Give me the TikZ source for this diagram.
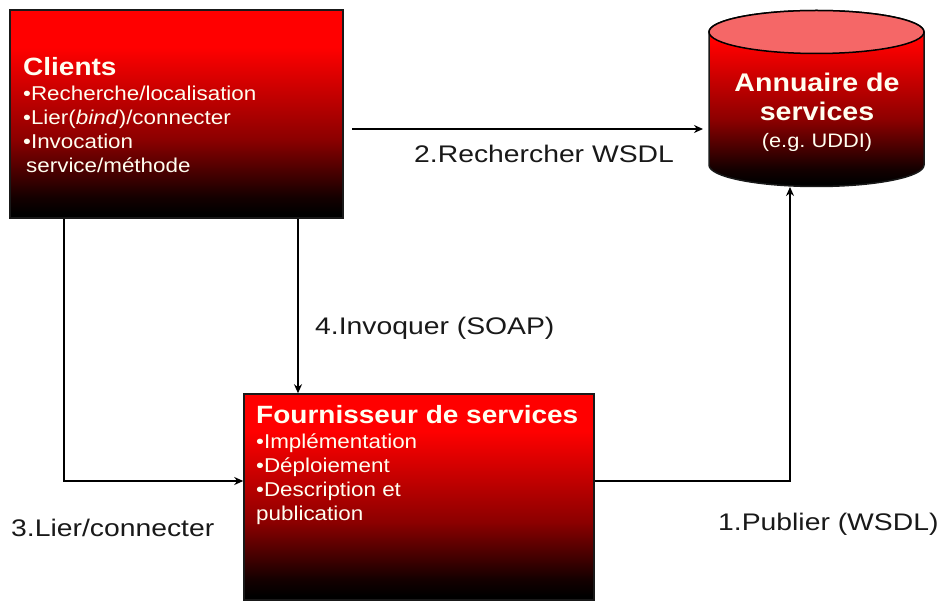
\documentclass[tikz,border=0pt]{standalone}
\usepackage{fontspec}
\setmainfont{Liberation Sans}
\newfontfamily\wideface[FakeStretch=1.12]{Liberation Sans}
\newfontfamily\labelface[FakeStretch=1.18]{Liberation Sans}
\usetikzlibrary{arrows.meta,shapes.geometric}
\pgfdeclareverticalshading{redblack}{100bp}{
  color(0bp)=(black);
  color(26bp)=(black);
  color(30bp)=(red!8!black);
  color(44bp)=(red!55!black);
  color(66bp)=(red);
  color(100bp)=(red)}
\tikzset{
  x=1pt,y=1pt,
  boxnode/.style={draw=black!90,line width=1.5pt,shading=redblack,inner sep=0pt,minimum width=#1},
  bodytext/.style={text=white!94!yellow,align=left,inner sep=0pt,anchor=north west,
    font=\wideface\fontsize{20}{24}\selectfont},
  edgelabel/.style={text=black!90,inner sep=0pt,font=\labelface\fontsize{24}{27}\selectfont},
  conn/.style={line width=1.5pt,draw=black,-{Stealth[length=9pt,width=8pt]}},
}
\newcommand{\heading}[1]{{\fontsize{25}{25}\selectfont\bfseries #1}}
\begin{document}
\begin{tikzpicture}
\useasboundingbox (0,0) rectangle (940,600);
% boxes
\node[boxnode=333pt,minimum height=208pt] (clients) at (176.5,486) {};
\node[boxnode=350pt,minimum height=206pt] (four) at (419,103) {};
% cylinder
\shade[shading=redblack,draw=black!90,line width=1.5pt]
  (709,568) -- (709,435) arc[start angle=180,end angle=360,x radius=107.5,y radius=21.5]
  -- (924,568) arc[start angle=0,end angle=180,x radius=107.5,y radius=21.5] -- cycle;
\node[draw=black,line width=1.5pt,fill=red!58!white!96!black,shape=ellipse,inner sep=0pt,
  minimum width=215pt,minimum height=43pt] (annuairetop) at (816.5,568) {};
\coordinate (annuaireleft) at (703,471);
\coordinate (annuairebase) at (790,413);
% connector guides
\coordinate (lowrow) at (0,119);
\coordinate (leftrun) at (64,0);
\coordinate (midrun) at (298,0);
\coordinate (clientsout) at (352,471);
% text
\node[bodytext] (clientstext) at (23,543) {\heading{Clients}\\[1pt]•Recherche/localisation\\
•Lier(\textit{bind})/connecter\\•Invocation\\\hspace*{3pt}service/méthode};
\node[bodytext,align=center,anchor=north] (annuairetext) at (817,527)
  {\fontsize{25.5}{31}\selectfont\bfseries Annuaire de\\[5pt]\fontsize{25.5}{31}\selectfont\bfseries services\\[3pt]\fontsize{19.5}{24}\selectfont (e.g.~UDDI)};
\node[bodytext] (fourtext) at (256,195) {\heading{Fournisseur de services}\\[1pt]•Implémentation\\
•Déploiement\\•Description et\\publication};
% connectors
\draw[conn] (clientsout) -- (annuaireleft);
\draw[conn] (clients.south -| leftrun) |- (four.west |- lowrow);
\draw[conn] (clients.south -| midrun) -- (four.north -| midrun);
\draw[conn] (four.east |- lowrow) -| (annuairebase);
% labels
\node[edgelabel,anchor=west] (l2) at (414,446) {2.Rechercher WSDL};
\node[edgelabel,anchor=west] (l4) at (315,272) {4.Invoquer (SOAP)};
\node[edgelabel,anchor=west] (l3) at (11,72) {3.Lier/connecter};
\node[edgelabel,anchor=west] (l1) at (718,76) {1.Publier (WSDL)};
\end{tikzpicture}
\end{document}
